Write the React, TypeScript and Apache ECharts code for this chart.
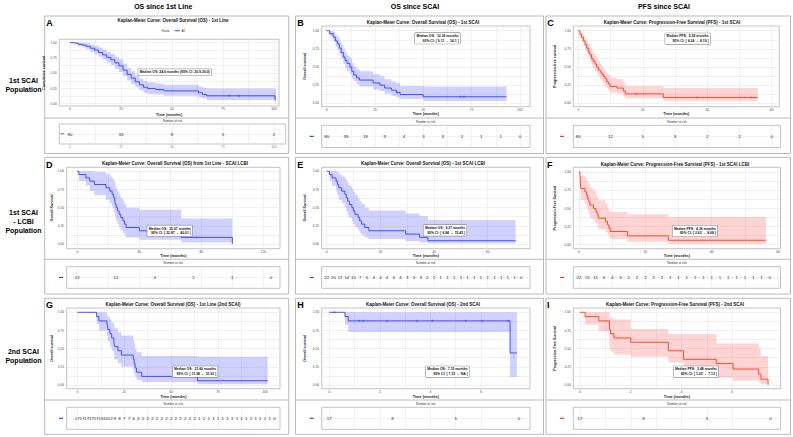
import React, { useEffect, useRef } from 'react';
import * as echarts from 'echarts';

const FONT = "'Liberation Sans', Arial, Helvetica, sans-serif";

// ---------------- DATA ----------------
// A: OS since 1st line, 1st SCAI population
const A_time = [0, 2, 4, 6, 8, 10, 12, 14, 16, 18, 20, 22, 24, 26, 28, 30, 32, 34, 36, 38, 42, 46, 63, 65, 67, 100.5];
const A_surv = [1, 0.99, 0.975, 0.96, 0.94, 0.91, 0.88, 0.84, 0.8, 0.76, 0.72, 0.67, 0.62, 0.55, 0.48, 0.42, 0.36, 0.31, 0.27, 0.25, 0.23, 0.21, 0.18, 0.15, 0.13, 0.07];
const A_lower = [1, 0.97, 0.94, 0.92, 0.89, 0.85, 0.81, 0.77, 0.72, 0.67, 0.63, 0.57, 0.52, 0.45, 0.38, 0.32, 0.27, 0.22, 0.18, 0.16, 0.15, 0.13, 0.1, 0.08, 0.06, 0.02];
const A_upper = [1, 1, 1, 1, 0.99, 0.97, 0.95, 0.92, 0.89, 0.85, 0.82, 0.77, 0.73, 0.66, 0.59, 0.53, 0.47, 0.41, 0.37, 0.35, 0.33, 0.31, 0.28, 0.26, 0.25, 0.24];
const A_end = 101;
const A_censor = [44, 78, 83];
const A_riskTime = [0, 25, 50, 75, 100];
const A_risk = [80, 33, 8, 5, 2];

// B: OS since SCAI, 1st SCAI population
const B_time = [0, 1.5, 3.4, 4.5, 5.5, 6.5, 7.5, 8.6, 9.5, 10.5, 12, 13, 14, 15.5, 17, 24, 27.5, 30, 33.5, 36, 38, 50];
const B_surv = [1, 0.96, 0.91, 0.86, 0.82, 0.76, 0.7, 0.64, 0.59, 0.55, 0.5, 0.44, 0.39, 0.35, 0.32, 0.28, 0.25, 0.21, 0.18, 0.15, 0.12, 0.09];
const B_lower = [1, 0.92, 0.85, 0.79, 0.74, 0.67, 0.61, 0.54, 0.49, 0.45, 0.4, 0.34, 0.3, 0.26, 0.23, 0.19, 0.17, 0.13, 0.1, 0.08, 0.06, 0.03];
const B_upper = [1, 1, 0.98, 0.94, 0.91, 0.86, 0.81, 0.75, 0.7, 0.66, 0.62, 0.56, 0.51, 0.47, 0.44, 0.4, 0.37, 0.33, 0.3, 0.28, 0.24, 0.23];
const B_end = 93;
const B_censor = [36.5, 69, 71];
const B_riskTime = [0, 10, 20, 30, 40, 50, 60, 70, 80, 90, 100];
const B_risk = [80, 39, 19, 9, 4, 3, 3, 2, 1, 1, 0];

// C: PFS since SCAI, 1st SCAI population
const C_time = [0, 0.5, 1, 1.6, 2.1, 2.6, 3.1, 3.6, 4.1, 4.6, 5.2, 5.7, 6.2, 6.8, 7.3, 7.8, 8.3, 8.8, 9.3, 9.8, 12, 14, 14.6, 26.4];
const C_surv = [1, 0.95, 0.91, 0.86, 0.81, 0.76, 0.71, 0.67, 0.62, 0.58, 0.54, 0.5, 0.46, 0.43, 0.4, 0.37, 0.34, 0.3, 0.27, 0.23, 0.21, 0.17, 0.13, 0.08];
const C_lower = [1, 0.9, 0.85, 0.79, 0.73, 0.68, 0.63, 0.58, 0.53, 0.49, 0.44, 0.41, 0.37, 0.33, 0.3, 0.27, 0.24, 0.21, 0.18, 0.15, 0.13, 0.1, 0.07, 0.03];
const C_upper = [1, 1, 0.97, 0.93, 0.89, 0.85, 0.81, 0.77, 0.73, 0.69, 0.65, 0.61, 0.58, 0.54, 0.51, 0.48, 0.45, 0.42, 0.39, 0.35, 0.33, 0.29, 0.24, 0.21];
const C_end = 55.7;
const C_censor = [18, 36.8, 53.6];
const C_riskTime = [0, 10, 20, 30, 40, 50, 60];
const C_risk = [80, 12, 5, 3, 2, 2, 0];

// D: OS from 1st line, SCAI LCBI population
const D_time = [0, 1, 5.5, 8, 11, 18.5, 21, 22.5, 23.5, 24.2, 24.6, 25.07, 26, 27, 28, 29.5, 30.5, 31.5, 40, 67, 100];
const D_surv = [1, 0.955, 0.909, 0.864, 0.818, 0.773, 0.727, 0.682, 0.636, 0.591, 0.545, 0.5, 0.455, 0.409, 0.364, 0.318, 0.273, 0.227, 0.182, 0.091, 0];
const D_lower = [1, 0.87, 0.8, 0.73, 0.67, 0.61, 0.56, 0.5, 0.45, 0.4, 0.36, 0.31, 0.27, 0.23, 0.19, 0.15, 0.12, 0.09, 0.06, 0.02, 0];
const D_upper = [1, 1, 1, 1, 0.99, 0.96, 0.93, 0.9, 0.87, 0.84, 0.8, 0.76, 0.72, 0.68, 0.63, 0.59, 0.55, 0.5, 0.47, 0.35, 0];
const D_end = 100;
const D_censor = [77];
const D_riskTime = [0, 25, 50, 75, 100, 125];
const D_risk = [22, 12, 4, 2, 1, 0];

// E: OS since SCAI, SCAI LCBI population
const E_time = [0, 1, 2, 3.5, 4, 4.5, 5.6, 6.8, 7.3, 7.8, 8.4, 9.37, 9.9, 10.5, 11.7, 12.3, 13, 14.2, 15.7, 29.4, 34.6, 37.7];
const E_surv = [1, 0.955, 0.909, 0.864, 0.818, 0.773, 0.727, 0.682, 0.636, 0.591, 0.545, 0.5, 0.455, 0.409, 0.364, 0.318, 0.273, 0.227, 0.182, 0.136, 0.091, 0.045];
const E_lower = [1, 0.87, 0.8, 0.73, 0.67, 0.61, 0.56, 0.5, 0.45, 0.4, 0.36, 0.31, 0.27, 0.23, 0.19, 0.15, 0.12, 0.09, 0.07, 0.04, 0.02, 0.01];
const E_upper = [1, 1, 1, 1, 0.99, 0.96, 0.93, 0.9, 0.87, 0.84, 0.8, 0.76, 0.72, 0.68, 0.63, 0.59, 0.55, 0.5, 0.46, 0.42, 0.38, 0.33];
const E_end = 70.4;
const E_censor: number[] = [];
const E_riskTime = [0, 2.5, 5, 7.5, 10, 12.5, 15, 17.5, 20, 22.5, 25, 27.5, 30, 32.5, 35, 37.5, 40, 42.5, 45, 47.5, 50, 52.5, 55, 57.5, 60, 62.5, 65, 67.5, 70, 72.5];
const E_risk = [22, 20, 17, 14, 10, 7, 5, 4, 4, 4, 4, 4, 3, 3, 3, 2, 1, 1, 1, 1, 1, 1, 1, 1, 1, 1, 1, 1, 1, 0];

// F: PFS since SCAI, SCAI LCBI population
const F_time = [0, 0.3, 0.5, 1.8, 2.3, 2.6, 3.0, 3.3, 4.36, 5.1, 5.5, 5.8, 8, 8.6, 9.0, 9.4, 14.6, 26.9];
const F_surv = [1, 0.955, 0.773, 0.727, 0.682, 0.636, 0.591, 0.545, 0.5, 0.455, 0.409, 0.364, 0.318, 0.273, 0.227, 0.182, 0.121, 0.061];
const F_lower = [1, 0.87, 0.62, 0.57, 0.52, 0.47, 0.42, 0.37, 0.33, 0.29, 0.25, 0.21, 0.17, 0.14, 0.11, 0.08, 0.04, 0.01];
const F_upper = [1, 1, 0.95, 0.92, 0.89, 0.86, 0.82, 0.78, 0.74, 0.7, 0.66, 0.61, 0.57, 0.52, 0.48, 0.45, 0.42, 0.38];
const F_end = 56.4;
const F_censor: number[] = [];
const F_riskTime = [0, 2.5, 5, 7.5, 10, 12.5, 15, 17.5, 20, 22.5, 25, 27.5, 30, 32.5, 35, 37.5, 40, 42.5, 45, 47.5, 50, 52.5, 55, 57.5];
const F_risk = [22, 15, 11, 6, 4, 3, 2, 2, 2, 2, 2, 1, 1, 1, 1, 1, 1, 1, 1, 1, 1, 1, 1, 0];

// G: OS from 1st line, 2nd SCAI population
const G_time = [0, 10.3, 11.5, 15.8, 16.2, 17.4, 18.3, 19.5, 19.8, 21.66, 23.5, 29.8, 30.3, 30.8, 31.6, 34.3, 64];
const G_surv = [1, 0.941, 0.882, 0.824, 0.765, 0.706, 0.647, 0.588, 0.529, 0.471, 0.412, 0.353, 0.294, 0.235, 0.176, 0.118, 0.059];
const G_lower = [1, 0.84, 0.75, 0.67, 0.6, 0.53, 0.47, 0.41, 0.35, 0.3, 0.25, 0.2, 0.15, 0.11, 0.07, 0.04, 0.01];
const G_upper = [1, 1, 1, 0.97, 0.94, 0.9, 0.86, 0.82, 0.78, 0.73, 0.68, 0.62, 0.56, 0.5, 0.45, 0.4, 0.39];
const G_end = 101.4;
const G_censor: number[] = [];
const G_riskTime = [0, 2.5, 5, 7.5, 10, 12.5, 15, 17.5, 20, 22.5, 25, 27.5, 30, 32.5, 35, 37.5, 40, 42.5, 45, 47.5, 50, 52.5, 55, 57.5, 60, 62.5, 65, 67.5, 70, 72.5, 75, 77.5, 80, 82.5, 85, 87.5, 90, 92.5, 95, 97.5, 100, 102.5, 105];
const G_risk = [17, 17, 17, 17, 17, 15, 15, 12, 9, 8, 7, 7, 6, 3, 2, 2, 2, 2, 2, 2, 2, 2, 2, 2, 2, 2, 1, 1, 1, 1, 1, 1, 1, 1, 1, 1, 1, 1, 1, 1, 1, 1, 0];

// H: OS since SCAI, 2nd SCAI population
const H_time = [0, 0.62, 0.75, 7.15];
const H_surv = [1, 0.941, 0.882, 0.441];
const H_lower = [1, 0.83, 0.73, 0.11];
const H_upper = [1, 1, 1, 1];
const H_end = 7.42;
const H_censor = [0.2, 1.18, 1.34, 2.29, 3.47, 4.08, 5.39, 6.05, 7.07];
const H_riskTime = [0, 2.5, 5, 7.5];
const H_risk = [17, 8, 5, 0];

// I: PFS since SCAI, 2nd SCAI population
const I_time = [0, 0.2, 0.74, 1.16, 1.2, 1.34, 2.0, 3.48, 4.08, 5.37, 6.03, 7.04, 7.13, 7.41];
const I_surv = [1, 0.941, 0.882, 0.765, 0.706, 0.647, 0.588, 0.471, 0.353, 0.294, 0.22, 0.15, 0.08, 0];
const I_lower = [1, 0.83, 0.74, 0.5, 0.46, 0.42, 0.39, 0.31, 0.16, 0.1, 0.06, 0.03, 0.01, 0];
const I_upper = [1, 1, 1, 0.94, 0.92, 0.9, 0.77, 0.7, 0.7, 0.57, 0.57, 0.5, 0.4, 0];
const I_end = 7.41;
const I_censor: number[] = [];
const I_riskTime = [0, 2.5, 5, 7.5];
const I_risk = [17, 8, 5, 0];

const Y_MAJOR = [0, 0.25, 0.5, 0.75, 1];
const COL_HEADERS = ['OS since 1st Line', 'OS since SCAI', 'PFS since SCAI'];
const ROW_HEADERS = ['1st SCAI\nPopulation', '1st SCAI\n- LCBI\nPopulation', '2nd SCAI\nPopulation'];

type Panel = {
  id: string; time: number[]; surv: number[]; lower: number[]; upper: number[]; end: number;
  censor: number[]; riskTime: number[]; risk: number[]; red: boolean; xMajor: number[];
  yName: string; title: string; median: string;
};

const PANELS: Panel[] = [
  { id: 'A', time: A_time, surv: A_surv, lower: A_lower, upper: A_upper, end: A_end, censor: A_censor, riskTime: A_riskTime, risk: A_risk, red: false, xMajor: [0, 25, 50, 75, 100], yName: 'Cumulative survival', title: 'Kaplan-Meier Curve: Overall Survival (OS) - 1st Line', median: 'Median OS: 24.6 months (95% CI: 20.9-30.0)' },
  { id: 'B', time: B_time, surv: B_surv, lower: B_lower, upper: B_upper, end: B_end, censor: B_censor, riskTime: B_riskTime, risk: B_risk, red: false, xMajor: [0, 25, 50, 75, 100], yName: 'Overall survival', title: 'Kaplan-Meier Curve: Overall Survival (OS) - 1st SCAI', median: 'Median OS:  12.36 months\n95% CI: [ 9.11  –  14.1 ]' },
  { id: 'C', time: C_time, surv: C_surv, lower: C_lower, upper: C_upper, end: C_end, censor: C_censor, riskTime: C_riskTime, risk: C_risk, red: true, xMajor: [0, 20, 40, 60], yName: 'Progression-free survival', title: 'Kaplan-Meier Curve: Progression-Free Survival (PFS) - 1st SCAI', median: 'Median PFS:  5.92 months\n95% CI: [ 4.34  –  8.19 ]' },
  { id: 'D', time: D_time, surv: D_surv, lower: D_lower, upper: D_upper, end: D_end, censor: D_censor, riskTime: D_riskTime, risk: D_risk, red: false, xMajor: [0, 40, 80, 120], yName: 'Overall Survival', title: 'Kaplan-Meier Curve: Overall Survival (OS) from 1st Line - SCAI LCBI', median: 'Median OS:  25.07 months\n95% CI: [ 22.87  –  40.01 ]' },
  { id: 'E', time: E_time, surv: E_surv, lower: E_lower, upper: E_upper, end: E_end, censor: E_censor, riskTime: E_riskTime, risk: E_risk, red: false, xMajor: [0, 20, 40, 60], yName: 'Overall Survival', title: 'Kaplan-Meier Curve: Overall Survival (OS) - 1st SCAI LCBI', median: 'Median OS:  9.37 months\n95% CI: [ 6.84  –  15.45 ]' },
  { id: 'F', time: F_time, surv: F_surv, lower: F_lower, upper: F_upper, end: F_end, censor: F_censor, riskTime: F_riskTime, risk: F_risk, red: true, xMajor: [0, 20, 40, 60], yName: 'Progression-Free Survival', title: 'Kaplan-Meier Curve: Progression-Free Survival (PFS) - 1st SCAI LCBI', median: 'Median PFS:  4.36 months\n95% CI: [ 2.63  –  8.68 ]' },
  { id: 'G', time: G_time, surv: G_surv, lower: G_lower, upper: G_upper, end: G_end, censor: G_censor, riskTime: G_riskTime, risk: G_risk, red: false, xMajor: [0, 25, 50, 75, 100], yName: 'Overall survival', title: 'Kaplan-Meier Curve: Overall Survival (OS) - 1st Line (2nd SCAI)', median: 'Median OS:  21.66 months\n95% CI: [ 11.98  –  31.93 ]' },
  { id: 'H', time: H_time, surv: H_surv, lower: H_lower, upper: H_upper, end: H_end, censor: H_censor, riskTime: H_riskTime, risk: H_risk, red: false, xMajor: [0, 2, 4, 6], yName: 'Overall survival', title: 'Kaplan-Meier Curve: Overall Survival (OS) - 2nd SCAI', median: 'Median OS:  7.15 months\n95% CI: [ 7.15  –  NA ]' },
  { id: 'I', time: I_time, surv: I_surv, lower: I_lower, upper: I_upper, end: I_end, censor: I_censor, riskTime: I_riskTime, risk: I_risk, red: true, xMajor: [0, 2, 4, 6], yName: 'Progression-Free Survival', title: 'Kaplan-Meier Curve: Progression-Free Survival (PFS) - 2nd SCAI', median: 'Median PFS:  3.48 months\n95% CI: [ 1.22  –  7.13 ]' },
];

// ---------------- LAYOUT (pixels) ----------------
const COLS = [[44.7, 288.7], [295.5, 543.5], [546, 790.5]];
const ROWS = [[16, 153.5], [157.3, 294], [298.3, 434.3]];
const COL_CX = [163.3, 415, 664];
const ROW_CY = [84.7, 221, 356.3];

type Lay = {
  col: number; row: number; letter: [number, number]; title: [number, number];
  plot: { L: number; R: number; T: number; B: number; x0: number; xu: number; y1: number; y0: number };
  risk: { L: number; R: number; T: number; B: number };
  yGap: number; xGap: number; divider: number; nar: number; dash: number;
  med: [number, number]; medAlign: 'center' | 'right'; riskLabels?: boolean;
};

const LAYOUT: Record<string, Lay> = {
  A: { col: 0, row: 0, letter: [46.3, 22.5], title: [173, 20.5], plot: { L: 59.3, R: 279, T: 39.3, B: 106, x0: 70, xu: 2.04, y1: 42.7, y0: 103.7 }, risk: { L: 59.3, R: 285.7, T: 124, B: 144 }, yGap: 9.5, xGap: 6.5, divider: 118, nar: 120.3, dash: 62.3, med: [174.7, 72.3], medAlign: 'center', riskLabels: true },
  B: { col: 1, row: 0, letter: [297.3, 22.5], title: [423, 22], plot: { L: 321.7, R: 530, T: 26, B: 106.7, x0: 326.7, xu: 1.933, y1: 30.7, y0: 103.3 }, risk: { L: 321.7, R: 530, T: 125.3, B: 147.5 }, yGap: 14.9, xGap: 5.5, divider: 118, nar: 122, dash: 311.7, med: [460, 38.3], medAlign: 'right' },
  C: { col: 2, row: 0, letter: [547.3, 23], title: [672, 22], plot: { L: 573.3, R: 779.3, T: 26, B: 106.7, x0: 578.3, xu: 3.223, y1: 30.7, y0: 103.3 }, risk: { L: 573.3, R: 780.5, T: 125.3, B: 147.5 }, yGap: 16.5, xGap: 5.5, divider: 118, nar: 122, dash: 562, med: [710, 38.7], medAlign: 'right' },
  D: { col: 0, row: 1, letter: [46, 164.5], title: [175, 163.5], plot: { L: 66.7, R: 280, T: 167.3, B: 248.7, x0: 77.3, xu: 1.55, y1: 171.3, y0: 244 }, risk: { L: 66.7, R: 280, T: 266.7, B: 288.3 }, yGap: 9.9, xGap: 4.8, divider: 259.3, nar: 262.7, dash: 61, med: [192.3, 230.8], medAlign: 'right' },
  E: { col: 1, row: 1, letter: [297.3, 164.5], title: [423, 163], plot: { L: 321.7, R: 530, T: 167.3, B: 248.7, x0: 326.7, xu: 2.683, y1: 171.3, y0: 244 }, risk: { L: 321.7, R: 530, T: 266.7, B: 288.3 }, yGap: 14.9, xGap: 4.8, divider: 259.3, nar: 262.7, dash: 311.7, med: [466.6, 230.4], medAlign: 'right' },
  F: { col: 2, row: 1, letter: [547, 164.5], title: [675, 164], plot: { L: 573.3, R: 780.5, T: 167.3, B: 248.7, x0: 579, xu: 3.318, y1: 172, y0: 244.7 }, risk: { L: 573.3, R: 780.5, T: 266.7, B: 288.3 }, yGap: 16.5, xGap: 4.8, divider: 259.3, nar: 262.7, dash: 562, med: [717.3, 231], medAlign: 'right' },
  G: { col: 0, row: 2, letter: [46, 305], title: [173, 304.7], plot: { L: 66.7, R: 280, T: 308, B: 388.7, x0: 77.3, xu: 1.877, y1: 312.3, y0: 385 }, risk: { L: 66.7, R: 280, T: 407.3, B: 429.3 }, yGap: 9.9, xGap: 6, divider: 400, nar: 403.3, dash: 61, med: [217.6, 371.7], medAlign: 'right' },
  H: { col: 1, row: 2, letter: [297.3, 305], title: [423, 304.7], plot: { L: 321.7, R: 530, T: 308, B: 388.7, x0: 329.3, xu: 25.28, y1: 312.3, y0: 385 }, risk: { L: 321.7, R: 530, T: 407.3, B: 429.3 }, yGap: 14.9, xGap: 6, divider: 400, nar: 403.3, dash: 311.7, med: [469, 371.7], medAlign: 'right' },
  I: { col: 2, row: 2, letter: [547, 305], title: [675, 304.7], plot: { L: 573.3, R: 780.5, T: 308, B: 388.7, x0: 580, xu: 25.38, y1: 312.3, y0: 385 }, risk: { L: 573.3, R: 780.5, T: 407.3, B: 429.3 }, yGap: 16.5, xGap: 6, divider: 400, nar: 403.3, dash: 562, med: [718.3, 371.7], medAlign: 'right' },
};

const BLUE = '#2f3fff';
const BLUE_BAND = 'rgba(45,45,255,0.22)';
const RED = '#ff3a1c';
const RED_BAND = 'rgba(255,40,40,0.2)';
const GRID_LINE = '#e3e3e3';
const BOX = '#a8a8a8';
const PLOT_BOX = '#9a9a9a';

function midpoints(a: number[]) {
  const r: number[] = [];
  for (let k = 0; k < a.length - 1; k++) r.push((a[k] + a[k + 1]) / 2);
  return r;
}

function survAt(p: Panel, t: number) {
  let v = p.surv[0];
  for (let k = 0; k < p.time.length; k++) if (p.time[k] <= t) v = p.surv[k];
  return v;
}

function buildOption() {
  const grid: any[] = [];
  const xAxis: any[] = [];
  const yAxis: any[] = [];
  const series: any[] = [];
  const graphic: any[] = [];
  const yTicks = Y_MAJOR.concat(midpoints(Y_MAJOR));
  const tickLabel = { fontSize: 3.3, color: '#4d4d4d', fontFamily: FONT };

  COL_HEADERS.forEach((t, c) => {
    graphic.push({ type: 'text', x: COL_CX[c], y: 6, silent: true, style: { text: t, fontSize: 7, fontWeight: 'bold', fontFamily: FONT, fill: '#000', align: 'center', verticalAlign: 'middle', textAlign: 'center', textVerticalAlign: 'middle' } });
  });
  ROW_HEADERS.forEach((t, r) => {
    graphic.push({ type: 'text', x: 23.5, y: ROW_CY[r], silent: true, style: { text: t, fontSize: 7, fontWeight: 'bold', fontFamily: FONT, fill: '#000', lineHeight: 9, align: 'center', verticalAlign: 'middle', textAlign: 'center', textVerticalAlign: 'middle' } });
  });

  PANELS.forEach((pn, i) => {
    const L = LAYOUT[pn.id];
    const p = L.plot;
    const rk = L.risk;
    const col = pn.red ? RED : BLUE;
    const band = pn.red ? RED_BAND : BLUE_BAND;
    const gP = 2 * i;
    const gR = 2 * i + 1;
    const xTicks = pn.xMajor.concat(midpoints(pn.xMajor));
    const ySpan = p.y0 - p.y1;

    grid.push({ left: p.L, top: p.T, width: p.R - p.L, height: p.B - p.T, show: true, backgroundColor: '#fff', borderColor: PLOT_BOX, borderWidth: 0.6, containLabel: false });
    grid.push({ left: rk.L, top: rk.T, width: rk.R - rk.L, height: rk.B - rk.T, show: true, backgroundColor: '#fff', borderColor: PLOT_BOX, borderWidth: 0.6, containLabel: false });

    xAxis.push({
      type: 'value', gridIndex: gP, min: (p.L - p.x0) / p.xu, max: (p.R - p.x0) / p.xu,
      axisLine: { show: false }, axisTick: { show: false, customValues: xTicks },
      axisLabel: { customValues: pn.xMajor, margin: 1.2, ...tickLabel },
      splitLine: { show: true, lineStyle: { color: GRID_LINE, width: 0.5 } },
      name: 'Time (months)', nameLocation: 'middle', nameGap: L.xGap,
      nameTextStyle: { fontSize: 3.8, fontWeight: 'bold', color: '#1a1a1a', fontFamily: FONT },
    });
    yAxis.push({
      type: 'value', gridIndex: gP, min: (p.y0 - p.B) / ySpan, max: (p.y0 - p.T) / ySpan,
      axisLine: { show: false }, axisTick: { show: false, customValues: yTicks },
      axisLabel: { customValues: Y_MAJOR, margin: 2.5, formatter: (v: any) => Number(v).toFixed(2), ...tickLabel },
      splitLine: { show: true, lineStyle: { color: GRID_LINE, width: 0.5 } },
      name: pn.yName, nameLocation: 'middle', nameGap: L.yGap, nameRotate: 90,
      nameTextStyle: { fontSize: 3.6, fontWeight: 'bold', color: '#1a1a1a', fontFamily: FONT },
    });
    xAxis.push({
      type: 'value', gridIndex: gR, min: (rk.L - p.x0) / p.xu, max: (rk.R - p.x0) / p.xu,
      axisLine: { show: false }, axisTick: { show: false, customValues: xTicks },
      axisLabel: { show: !!L.riskLabels, customValues: pn.xMajor, margin: 1.2, ...tickLabel, color: '#888' },
      splitLine: { show: true, lineStyle: { color: GRID_LINE, width: 0.5 } },
    });
    yAxis.push({
      type: 'value', gridIndex: gR, min: 0, max: 2,
      axisLine: { show: false }, axisTick: { show: false, customValues: [1] },
      axisLabel: { show: false },
      splitLine: { show: true, lineStyle: { color: GRID_LINE, width: 0.5 } },
    });

    const n = pn.time.length;
    series.push({
      type: 'custom', xAxisIndex: gP, yAxisIndex: gP, silent: true, z: 1,
      data: [[pn.time[0], pn.surv[0]]], encode: { x: 0, y: 1 },
      renderItem: (_params: any, api: any) => {
        const pts: number[][] = [];
        for (let k = 0; k < n; k++) {
          const a = pn.time[k];
          const b = k < n - 1 ? pn.time[k + 1] : pn.end;
          pts.push(api.coord([a, pn.upper[k]]));
          pts.push(api.coord([b, pn.upper[k]]));
        }
        for (let k = n - 1; k >= 0; k--) {
          const a = pn.time[k];
          const b = k < n - 1 ? pn.time[k + 1] : pn.end;
          pts.push(api.coord([b, pn.lower[k]]));
          pts.push(api.coord([a, pn.lower[k]]));
        }
        return { type: 'polygon', shape: { points: pts }, style: { fill: band } };
      },
    });
    series.push({
      type: 'line', xAxisIndex: gP, yAxisIndex: gP, step: 'end', symbol: 'none', showSymbol: false, silent: true, z: 3,
      data: pn.time.map((t, k) => [t, pn.surv[k]]).concat([[pn.end, pn.surv[n - 1]]]),
      lineStyle: { color: col, width: 0.9 },
    });
    if (pn.censor.length) {
      series.push({
        type: 'scatter', xAxisIndex: gP, yAxisIndex: gP, silent: true, z: 4,
        symbol: 'path://M0,5L10,5M5,0L5,10', symbolSize: 2.6,
        itemStyle: { color: 'rgba(0,0,0,0)', borderColor: col, borderWidth: 0.5 },
        data: pn.censor.map((c) => [c, survAt(pn, c)]),
      });
    }
    series.push({
      type: 'scatter', xAxisIndex: gR, yAxisIndex: gR, silent: true, symbolSize: 0.5, z: 5,
      itemStyle: { color: '#ffffff', opacity: 1 },
      data: pn.riskTime.map((t, k) => [t, 1, pn.risk[k]]),
      label: {
        show: true, position: 'inside', formatter: (q: any) => String(q.value[2]),
        fontSize: 4.4, color: '#1e1e1e', fontFamily: FONT, textBorderWidth: 0, opacity: 1,
      },
    });

    // panel decorations
    const cx = COLS[L.col];
    const ry = ROWS[L.row];
    graphic.push({ type: 'rect', silent: true, shape: { x: cx[0], y: ry[0], width: cx[1] - cx[0], height: ry[1] - ry[0] }, style: { fill: 'none', stroke: BOX, lineWidth: 0.8 } });
    graphic.push({ type: 'line', silent: true, shape: { x1: cx[0], y1: L.divider, x2: cx[1], y2: L.divider }, style: { stroke: BOX, lineWidth: 0.8 } });
    graphic.push({ type: 'text', silent: true, x: L.letter[0], y: L.letter[1], style: { text: pn.id, fontSize: 9, fontWeight: 'bold', fontFamily: FONT, fill: '#000', align: 'left', verticalAlign: 'middle', textAlign: 'left', textVerticalAlign: 'middle' } });
    graphic.push({ type: 'text', silent: true, x: L.title[0], y: L.title[1], style: { text: pn.title, fontSize: 4.5, fontWeight: 'bold', fontFamily: FONT, fill: '#111', align: 'center', verticalAlign: 'middle', textAlign: 'center', textVerticalAlign: 'middle' } });
    graphic.push({ type: 'text', silent: true, x: (rk.L + rk.R) / 2, y: L.nar, style: { text: 'Number at risk', fontSize: 3, fontFamily: FONT, fill: '#333', align: 'center', verticalAlign: 'middle', textAlign: 'center', textVerticalAlign: 'middle' } });
    graphic.push({ type: 'rect', silent: true, shape: { x: L.dash - 2, y: (rk.T + rk.B) / 2 - 0.6, width: 4, height: 1.2 }, style: { fill: col } });
    graphic.push({
      type: 'text', silent: true, z: 100, x: L.med[0], y: L.med[1],
      style: {
        text: pn.median, fontSize: 3.4, fontWeight: 'bold', fontFamily: FONT, fill: '#111', lineHeight: 4.6,
        align: L.medAlign, verticalAlign: 'middle', textAlign: L.medAlign, textVerticalAlign: 'middle',
        backgroundColor: '#fff', borderColor: '#555', borderWidth: 0.4, padding: [0.8, 1.4],
      },
    });
  });

  // legend of panel A
  graphic.push({ type: 'text', silent: true, x: 161.5, y: 30.7, style: { text: 'Strata', fontSize: 3, fontFamily: FONT, fill: '#333', align: 'left', verticalAlign: 'middle', textAlign: 'left', textVerticalAlign: 'middle' } });
  graphic.push({ type: 'line', silent: true, shape: { x1: 174.3, y1: 30.7, x2: 180, y2: 30.7 }, style: { stroke: BLUE, lineWidth: 0.8 } });
  graphic.push({ type: 'line', silent: true, shape: { x1: 177.15, y1: 29.6, x2: 177.15, y2: 31.8 }, style: { stroke: BLUE, lineWidth: 0.5 } });
  graphic.push({ type: 'text', silent: true, x: 181.5, y: 30.7, style: { text: 'All', fontSize: 3, fontFamily: FONT, fill: '#333', align: 'left', verticalAlign: 'middle', textAlign: 'left', textVerticalAlign: 'middle' } });

  return {
    animation: false,
    backgroundColor: '#fff',
    textStyle: { fontFamily: FONT },
    grid, xAxis, yAxis, series, graphic,
  };
}

export default function App() {
  const ref = useRef<HTMLDivElement>(null);
  useEffect(() => {
    if (!ref.current) return;
    const chart = echarts.init(ref.current, undefined, { renderer: 'svg' });
    chart.setOption(buildOption() as any);
    return () => chart.dispose();
  }, []);
  return <div ref={ref} style={{ position: 'fixed', left: 0, top: 0, width: 793, height: 437, background: '#fff' }} />;
}
